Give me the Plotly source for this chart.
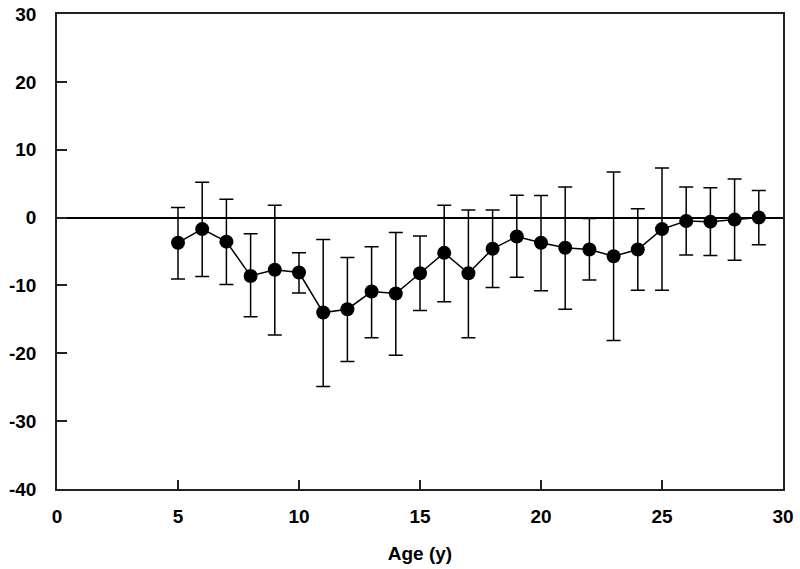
import plotly.graph_objects as go

ages = [5, 6, 7, 8, 9, 10, 11, 12, 13, 14, 15, 16, 17, 18, 19, 20, 21, 22, 23, 24, 25, 26, 27, 28, 29]
means = [-3.7, -1.7, -3.55, -8.6, -7.7, -8.1, -14.0, -13.5, -10.9, -11.2, -8.2, -5.2, -8.2, -4.6, -2.8, -3.7, -4.45, -4.7, -5.7, -4.7, -1.7, -0.5, -0.6, -0.3, 0.0]
upper = [1.5, 5.2, 2.7, -2.4, 1.8, -5.2, -3.25, -5.9, -4.3, -2.2, -2.7, 1.8, 1.1, 1.1, 3.3, 3.25, 4.5, -0.15, 6.7, 1.3, 7.3, 4.5, 4.4, 5.7, 4.0]
lower = [-9.05, -8.7, -9.85, -14.6, -17.3, -11.1, -24.9, -21.2, -17.7, -20.3, -13.7, -12.4, -17.7, -10.3, -8.8, -10.8, -13.5, -9.2, -18.1, -10.7, -10.7, -5.5, -5.6, -6.3, -4.0]

err_plus = [u - m for u, m in zip(upper, means)]
err_minus = [m - l for m, l in zip(means, lower)]

x_ticks = [0, 5, 10, 15, 20, 25, 30]
y_ticks = [-40, -30, -20, -10, 0, 10, 20, 30]
y_tick_labels = ["-40", "-30", "-20", "-10", "0", "10", "20", "30"]

fig = go.Figure()
fig.add_trace(go.Scatter(
    x=ages, y=means, mode="lines+markers",
    line=dict(color="black", width=1.5),
    marker=dict(color="black", size=14),
    error_y=dict(type="data", symmetric=False, array=err_plus, arrayminus=err_minus,
                 color="black", thickness=1.5, width=7),
    showlegend=False,
))

fam = "Liberation Sans, Arial, sans-serif"
tf = dict(family=fam, size=19, color="black", weight="bold")

fig.update_layout(
    width=800, height=569,
    margin=dict(l=57, r=17, t=14, b=80),
    paper_bgcolor="white", plot_bgcolor="white",
    font=dict(family=fam, size=19, color="black"),
    xaxis=dict(
        range=[0, 30], tickvals=x_ticks, ticks="inside", ticklen=9, tickwidth=1.5,
        tickcolor="#222", showline=True, linecolor="#222", linewidth=1.5, mirror=True,
        showgrid=False, zeroline=False, ticklabelstandoff=9, automargin=False,
        tickfont=tf,
        title=dict(text="Age (y)", standoff=21, font=tf),
    ),
    yaxis=dict(
        range=[-40, 30], tickvals=y_ticks, ticktext=y_tick_labels, ticks="inside",
        ticklen=10, tickwidth=1.5,
        tickcolor="#222", showline=True, linecolor="#222", linewidth=1.5, mirror=True,
        showgrid=False, zeroline=True, zerolinecolor="black", zerolinewidth=1.5,
        ticklabelstandoff=15, automargin=False,
        tickfont=tf,
    ),
)

fig.write_html("out.html", config={"displayModeBar": False},
               post_script="document.body.style.margin='0';")
